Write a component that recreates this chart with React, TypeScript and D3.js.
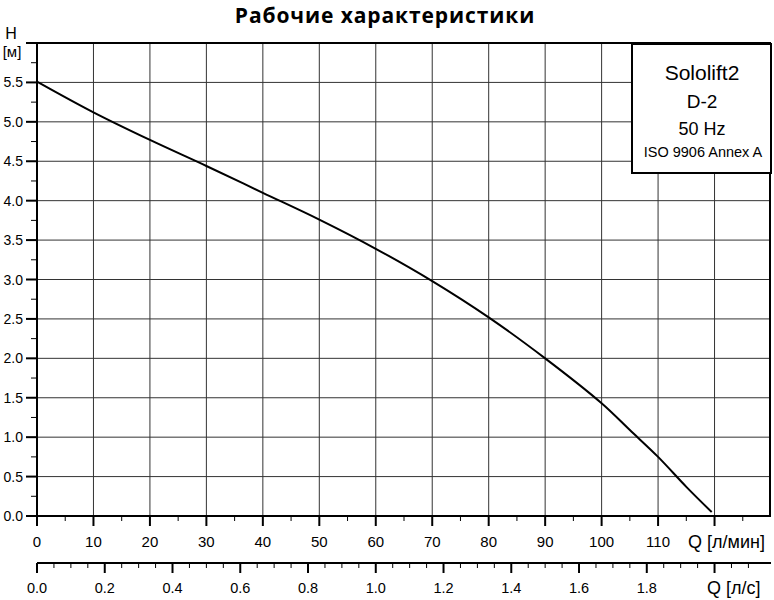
import React from "react";
import * as d3 from "d3";

const flowLpm = [0, 10, 20, 30, 40, 50, 60, 70, 80, 90, 100, 105, 110, 115, 119.5];
const headM = [5.51, 5.12, 4.77, 4.44, 4.1, 3.76, 3.39, 2.98, 2.52, 2.0, 1.43, 1.09, 0.75, 0.37, 0.05];
const xTicks = [0, 10, 20, 30, 40, 50, 60, 70, 80, 90, 100, 110];
const xTicksLs = [0, 0.2, 0.4, 0.6, 0.8, 1.0, 1.2, 1.4, 1.6, 1.8];
const yTicks = [0, 0.5, 1, 1.5, 2, 2.5, 3, 3.5, 4, 4.5, 5, 5.5];
const legendLines = ["Sololift2", "D-2", "50 Hz", "ISO 9906 Annex A"];
const title = "Рабочие характеристики";

export default function App() {
  const W = 774, H = 600;
  const L = 37, R = 771, T = 43, B = 516;
  const x = d3.scaleLinear().domain([0, 130]).range([L, R]);
  const xs = d3.scaleLinear().domain([0, 130 / 60]).range([L, R]);
  const y = d3.scaleLinear().domain([0, 6]).range([B, T]);
  const font = "'Liberation Sans', Arial, sans-serif";
  const pts: [number, number][] = flowLpm.map((q, i) => [q, headM[i]]);
  const line = d3.line<[number, number]>().x(d => x(d[0])).y(d => y(d[1])).curve(d3.curveCatmullRom.alpha(0.5));
  const ax2 = 563;
  const minorX = d3.range(5, 130, 10);
  const minorXs = d3.range(0.05, 2.15, 0.05).filter(v => Math.abs(v / 0.2 - Math.round(v / 0.2)) > 0.01);
  const minorY = d3.range(0.25, 6, 0.5);
  const gridX = d3.range(10, 130, 10);
  return (
    <svg width={W} height={H} style={{ position: "absolute", left: 0, top: 0, background: "#fff" }}>
      <rect x={0} y={0} width={W} height={H} fill="#fff" />
      <text x={385} y={23} textAnchor="middle" fontFamily="'Open Sans', sans-serif" fontWeight="bold" fontSize={21} letterSpacing={0.9}>{title}</text>
      {/* grid */}
      {gridX.map(v => (
        <line key={"gx" + v} x1={x(v)} x2={x(v)} y1={T} y2={B} stroke="#333" strokeWidth={1} />
      ))}
      {yTicks.filter(v => v > 0).map(v => (
        <line key={"gy" + v} x1={L} x2={R} y1={y(v)} y2={y(v)} stroke="#333" strokeWidth={1} />
      ))}
      {/* frame */}
      <line x1={26} x2={R} y1={T} y2={T} stroke="#000" strokeWidth={2} />
      <line x1={R - 1} x2={R - 1} y1={T} y2={B} stroke="#000" strokeWidth={2} />
      <line x1={L} x2={L} y1={T} y2={B + 10} stroke="#000" strokeWidth={2} />
      <line x1={26} x2={R} y1={B} y2={B} stroke="#000" strokeWidth={2} />
      {/* curve */}
      <path d={line(pts) || ""} fill="none" stroke="#000" strokeWidth={2} />
      {/* y axis */}
      {yTicks.map(v => (
        <g key={"yt" + v}>
          <line x1={26} x2={L} y1={y(v)} y2={y(v)} stroke="#000" strokeWidth={2} />
          <text x={23} y={y(v) + 5} textAnchor="end" fontFamily={font} fontSize={14}>{v.toFixed(1)}</text>
        </g>
      ))}
      {minorY.map(v => (
        <line key={"ym" + v} x1={31} x2={L} y1={y(v)} y2={y(v)} stroke="#000" strokeWidth={1} />
      ))}
      <text x={11} y={39} textAnchor="middle" fontFamily={font} fontSize={16}>H</text>
      <text x={12} y={57} textAnchor="middle" fontFamily={font} fontSize={15}>[м]</text>
      {/* x axis l/min */}
      {xTicks.map(v => (
        <g key={"xt" + v}>
          <line x1={x(v)} x2={x(v)} y1={B} y2={B + 10} stroke="#000" strokeWidth={2} />
          <text x={x(v)} y={547} textAnchor="middle" fontFamily={font} fontSize={15}>{v}</text>
        </g>
      ))}
      <line x1={x(120)} x2={x(120)} y1={B} y2={B + 10} stroke="#000" strokeWidth={2} />
      {minorX.map(v => (
        <line key={"xm" + v} x1={x(v)} x2={x(v)} y1={B} y2={B + 5} stroke="#000" strokeWidth={1} />
      ))}
      <text x={688} y={548} fontFamily={font} fontSize={18}>Q [л/мин]</text>
      {/* x axis l/s */}
      <line x1={L} x2={R} y1={ax2} y2={ax2} stroke="#000" strokeWidth={2} />
      {xTicksLs.map(v => (
        <g key={"xs" + v}>
          <line x1={xs(v)} x2={xs(v)} y1={ax2} y2={ax2 + 10} stroke="#000" strokeWidth={2} />
          <text x={xs(v)} y={593} textAnchor="middle" fontFamily={font} fontSize={14.5}>{v.toFixed(1)}</text>
        </g>
      ))}
      <line x1={xs(2)} x2={xs(2)} y1={ax2} y2={ax2 + 10} stroke="#000" strokeWidth={2} />
      {minorXs.map(v => (
        <line key={"xsm" + v} x1={xs(v)} x2={xs(v)} y1={ax2} y2={ax2 + 5} stroke="#000" strokeWidth={1} />
      ))}
      <text x={707} y={594} fontFamily={font} fontSize={18}>Q [л/с]</text>
      {/* legend */}
      <rect x={632} y={44} width={139} height={129} fill="#fff" stroke="#000" strokeWidth={2} />
      <text x={702} y={80} textAnchor="middle" fontFamily={font} fontSize={21}>{legendLines[0]}</text>
      <text x={702} y={108} textAnchor="middle" fontFamily={font} fontSize={19}>{legendLines[1]}</text>
      <text x={702} y={135} textAnchor="middle" fontFamily={font} fontSize={18}>{legendLines[2]}</text>
      <text x={703} y={157} textAnchor="middle" fontFamily={font} fontSize={14.5}>{legendLines[3]}</text>
    </svg>
  );
}
